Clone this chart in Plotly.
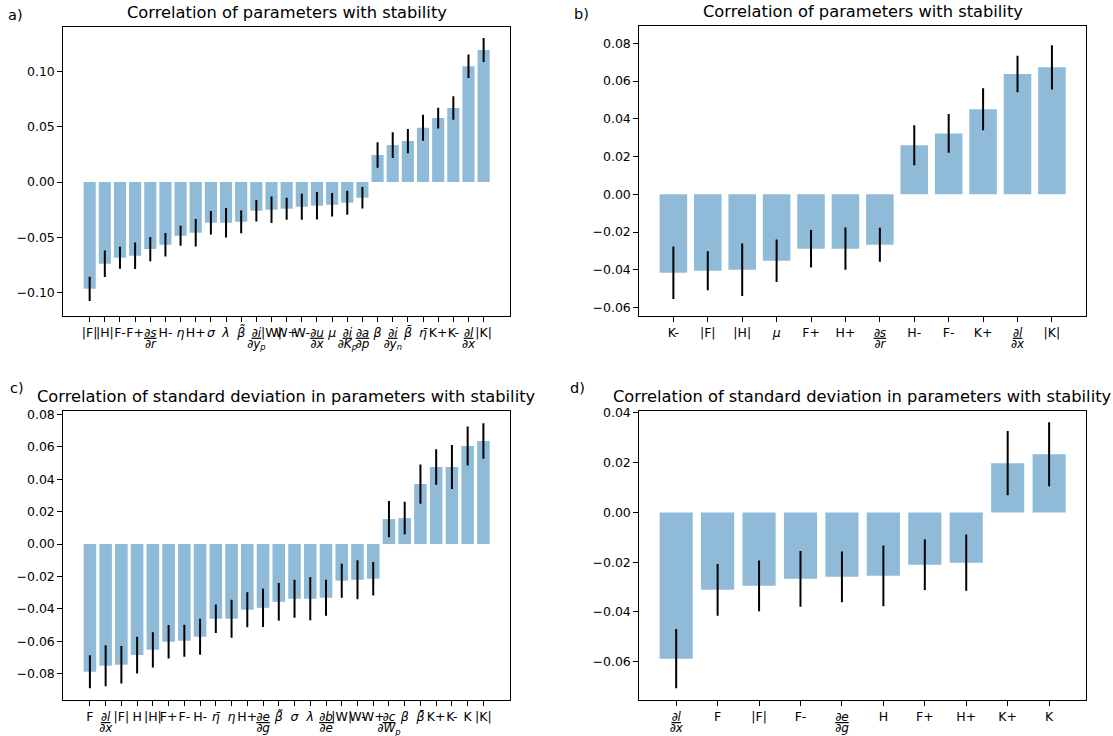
import re
import plotly.graph_objects as go

# ---------------- data ----------------
a_labels = ["|F|", "|H|", "F-", "F+", "∂s/∂r", "H-", "η", "H+", "σ", "λ", "β̃", "∂i/∂y_p",
            "|W|", "W+", "W-", "∂u/∂x", "μ", "∂i/∂K_p", "∂a/∂p", "β", "∂i/∂y_n", "β̄", "η̄",
            "K+", "K-", "∂l/∂x", "|K|"]
a_values = [-0.0967, -0.0740, -0.0686, -0.0668, -0.0607, -0.0568, -0.0486, -0.0459, -0.0369,
            -0.0369, -0.0360, -0.0260, -0.0251, -0.0242, -0.0224, -0.0215, -0.0205, -0.0187,
            -0.0142, 0.0245, 0.0335, 0.0372, 0.0492, 0.0580, 0.0671, 0.1050, 0.1196]
a_errors = [0.0110, 0.0120, 0.0100, 0.0120, 0.0110, 0.0107, 0.0090, 0.0124, 0.0107, 0.0134,
            0.0103, 0.0098, 0.0120, 0.0100, 0.0118, 0.0124, 0.0106, 0.0109, 0.0098, 0.0115,
            0.0116, 0.0110, 0.0118, 0.0094, 0.0106, 0.0106, 0.0109]

b_labels = ["K-", "|F|", "|H|", "μ", "F+", "H+", "∂s/∂r", "H-", "F-", "K+", "∂l/∂x", "|K|"]
b_values = [-0.0415, -0.0405, -0.0399, -0.0352, -0.0288, -0.0288, -0.0267, 0.0260, 0.0323,
            0.0451, 0.0638, 0.0673]
b_errors = [0.0139, 0.0103, 0.0139, 0.0113, 0.0099, 0.0112, 0.0090, 0.0106, 0.0103, 0.0111,
            0.0097, 0.0117]

c_labels = ["F", "∂l/∂x", "|F|", "H", "|H|", "F+", "F-", "H-", "η̄", "η", "H+", "∂e/∂g", "β̃",
            "σ", "λ", "∂b/∂e", "|W|", "W-", "W+", "∂c/∂W_p", "β", "β̄", "K+", "K-", "K", "|K|"]
c_values = [-0.0787, -0.0750, -0.0744, -0.0684, -0.0652, -0.0602, -0.0596, -0.0571, -0.0460,
            -0.0460, -0.0405, -0.0393, -0.0356, -0.0337, -0.0337, -0.0331, -0.0226, -0.0220,
            -0.0214, 0.0154, 0.0160, 0.0370, 0.0475, 0.0475, 0.0604, 0.0635]
c_errors = [0.0102, 0.0127, 0.0116, 0.0113, 0.0109, 0.0103, 0.0099, 0.0111, 0.0088, 0.0117,
            0.0108, 0.0118, 0.0116, 0.0117, 0.0133, 0.0111, 0.0105, 0.0120, 0.0103, 0.0112,
            0.0100, 0.0121, 0.0110, 0.0136, 0.0120, 0.0110]

d_labels = ["∂l/∂x", "F", "|F|", "F-", "∂e/∂g", "H", "F+", "H+", "K+", "K"]
d_values = [-0.0588, -0.0311, -0.0295, -0.0267, -0.0259, -0.0255, -0.0210, -0.0202, 0.0198, 0.0234]
d_errors = [0.0119, 0.0104, 0.0102, 0.0112, 0.0102, 0.0122, 0.0102, 0.0113, 0.0129, 0.0129]

title_a = "Correlation of parameters with stability"
title_c = "Correlation of standard deviation in parameters with stability"

# ---------------- formatting helpers ----------------
GREEK = set("αβγδεηλμσ")
FRAC_SIZE = 12


def sub(t):
    return re.sub(r"_(\w)", r"<sub>\1</sub>", t)


def fmt(s):
    if "/" in s:
        num, den = s.split("/")
        return (f"<span style='font-size:{FRAC_SIZE}px'><i><u>{sub(num)}</u></i></span><br>"
                f"<sup><span style='font-size:{FRAC_SIZE}px'><i>{sub(den)}</i></span></sup>")
    if s[0] in GREEK:
        return f"<i>{s}</i>"
    return s


W, H = 1113, 736
FONT = "DejaVu Sans"
BAR_COLOR = "rgba(31,119,180,0.5)"
TICK_SIZE = 12.5
TITLE_SIZE = 16.3
LETTER_SIZE = 14.5

panels = [
    (a_labels, a_values, a_errors, (63.3, 510.0), (26.7, 315.7), (-0.1211, 0.1408), 0.05, "a)", title_a, (15.5, 15)),
    (b_labels, b_values, b_errors, (639.3, 1086.0), (26.0, 315.7), (-0.0643, 0.0892), 0.02, "b)", title_a, (581, 14)),
    (c_labels, c_values, c_errors, (63.3, 510.0), (411.0, 700.0), (-0.0961, 0.0820), 0.02, "c)", title_c, (16.5, 388)),
    (d_labels, d_values, d_errors, (639.3, 1086.0), (410.7, 700.0), (-0.0754, 0.0409), 0.02, "d)", title_c, (577, 388)),
]

fig = go.Figure()
annotations = []
layout = {}
for i, (labs, vals, errs, xpx, ypx, yr, dt, letter, title, lpos) in enumerate(panels, start=1):
    cats = [fmt(l) for l in labs]
    xa = "x" if i == 1 else f"x{i}"
    ya = "y" if i == 1 else f"y{i}"
    fig.add_trace(go.Bar(
        x=cats, y=vals, xaxis=xa, yaxis=ya,
        marker=dict(color=BAR_COLOR, line=dict(width=0)),
        error_y=dict(type="data", array=errs, visible=True, thickness=2, width=0, color="black"),
        showlegend=False, hoverinfo="skip",
    ))
    xdom = [xpx[0] / W, xpx[1] / W]
    ydom = [1 - ypx[1] / H, 1 - ypx[0] / H]
    n = len(labs)
    m = 0.05 * (n - 1 + 0.8) + 0.4
    layout["xaxis" if i == 1 else f"xaxis{i}"] = dict(
        domain=xdom, anchor=ya, type="category", range=[-m, n - 1 + m],
        tickmode="linear", tick0=0, dtick=1, tickangle=0, automargin=False,
        showline=True, mirror=True, linecolor="black", linewidth=1,
        ticks="outside", ticklen=5, tickcolor="black", tickwidth=1,
        showgrid=False, zeroline=False,
        tickfont=dict(family=FONT, size=TICK_SIZE, color="black"),
    )
    layout["yaxis" if i == 1 else f"yaxis{i}"] = dict(
        domain=ydom, anchor=xa, range=list(yr), dtick=dt, tick0=0, tickformat=".2f",
        automargin=False,
        showline=True, mirror=True, linecolor="black", linewidth=1,
        ticks="outside", ticklen=5, tickcolor="black", tickwidth=1,
        showgrid=False, zeroline=False,
        tickfont=dict(family=FONT, size=TICK_SIZE, color="black"),
    )
    annotations.append(dict(
        text=title, xref="paper", yref="paper",
        x=(xdom[0] + xdom[1]) / 2, y=ydom[1], xanchor="center", yanchor="bottom",
        yshift=3, showarrow=False, font=dict(family=FONT, size=TITLE_SIZE, color="black"),
    ))
    annotations.append(dict(
        text=letter, xref="paper", yref="paper",
        x=lpos[0] / W, y=1 - lpos[1] / H, xanchor="center", yanchor="middle",
        showarrow=False, font=dict(family=FONT, size=LETTER_SIZE, color="black"),
    ))

fig.update_layout(
    width=W, height=H,
    margin=dict(l=0, r=0, t=0, b=0, autoexpand=False),
    paper_bgcolor="white", plot_bgcolor="white",
    bargap=0.2,
    font=dict(family=FONT, color="black"),
    annotations=annotations,
    **layout,
)

fig.write_html(
    "out.html",
    config={"displayModeBar": False},
    post_script="document.body.style.margin='0';document.body.style.overflow='hidden';",
)
